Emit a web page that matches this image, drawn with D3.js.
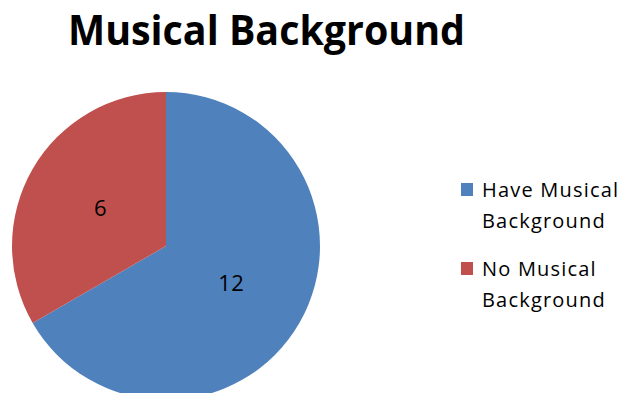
<!DOCTYPE html>
<html>
<head>
<meta charset="utf-8">
<script src="https://cdn.jsdelivr.net/npm/d3@7"></script>
<style>
  html, body { margin: 0; padding: 0; background: #fff; }
  svg { display: block; font-family: "Open Sans", "Noto Sans", sans-serif; }
</style>
</head>
<body>
<svg id="chart" width="626" height="393"></svg>
<script>
const categories = ['Have Musical Background', 'No Musical Background'];
const legendLines = [['Have Musical', 'Background'], ['No Musical', 'Background']];
const values = [12, 6];
const colors = ['#4F81BD', '#C0504D'];
const title = 'Musical Background';

const width = 626, height = 393;
const cx = 166, cy = 246, radius = 154;

const svg = d3.select('#chart');

// title
svg.append('text')
  .attr('x', 68)
  .attr('y', 45)
  .attr('textLength', 397)
  .attr('lengthAdjust', 'spacingAndGlyphs')
  .style('font-size', '41px')
  .style('font-weight', '700')
  .style('fill', '#000')
  .text(title);

const pie = d3.pie().sort(null).value(d => d);
const arc = d3.arc().innerRadius(0).outerRadius(radius);
const labelArc = d3.arc().innerRadius(radius * 0.49).outerRadius(radius * 0.49);

const g = svg.append('g').attr('transform', `translate(${cx},${cy})`);
const arcs = pie(values);

g.selectAll('path')
  .data(arcs)
  .join('path')
  .attr('d', arc)
  .attr('fill', (d, i) => colors[i]);

g.selectAll('text.lbl')
  .data(arcs)
  .join('text')
  .attr('class', 'lbl')
  .attr('transform', d => `translate(${labelArc.centroid(d)})`)
  .attr('text-anchor', 'middle')
  .attr('dy', '0.35em')
  .style('font-size', '22px')
  .style('letter-spacing', '0.5px')
  .style('fill', '#000')
  .text(d => d.data);

// legend
const legend = svg.append('g').attr('transform', 'translate(461,183)');
const item = legend.selectAll('g')
  .data(categories)
  .join('g')
  .attr('transform', (d, i) => `translate(0,${i * 79})`);

item.append('rect')
  .attr('width', 12)
  .attr('height', 13)
  .attr('fill', (d, i) => colors[i]);

item.append('text')
  .style('font-size', '20px')
  .style('letter-spacing', '1.2px')
  .style('fill', '#000')
  .selectAll('tspan')
  .data((d, i) => legendLines[i])
  .join('tspan')
  .attr('x', 21)
  .attr('y', (d, j) => 14 + j * 31)
  .text(d => d);
</script>
</body>
</html>
